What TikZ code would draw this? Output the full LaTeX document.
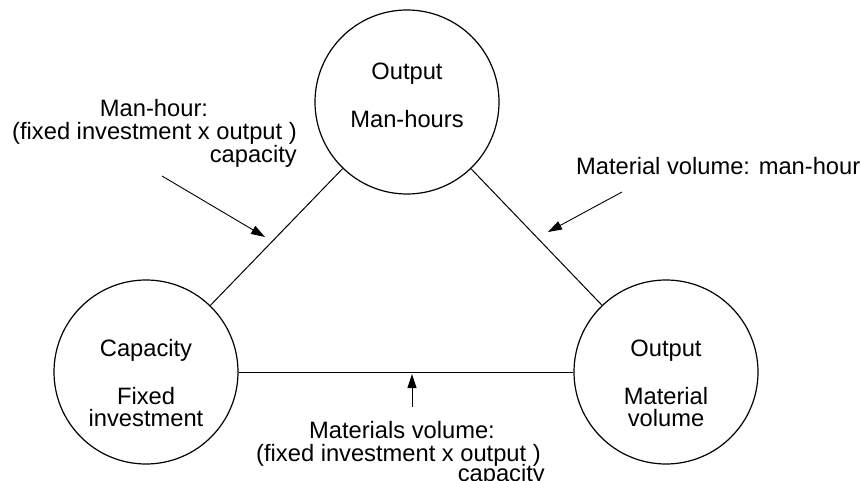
\documentclass[tikz,border=0pt]{standalone}
\usepackage{fontspec}
\setmainfont{Liberation Sans}
\usetikzlibrary{arrows.meta}
\begin{document}
\begin{tikzpicture}[x=1pt,y=-1pt,
  state/.style={circle,draw,line width=1.2pt,minimum size=184pt,inner sep=0pt},
  txt/.style={anchor=base,inner sep=0pt,font=\fontsize{23.7}{23}\selectfont},
  link/.style={line width=1pt},
  pointer/.style={line width=0.9pt,-{Triangle[length=14pt,width=9pt]}}]
\useasboundingbox (0,0) rectangle (861,481);
% circles
\node[state] (T) at (407,102) {};
\node[state] (L) at (146,372) {};
\node[state] (R) at (666,372) {};
% circle texts
\node[txt] (t1) at (407,80) {Output};
\node[txt] (t2) at (407,128) {Man-hours};
\node[txt] (l1) at (146,356) {Capacity};
\node[txt] (l2) at (146,404) {Fixed};
\node[txt] (l3) at (146,426) {investment};
\node[txt] (r1) at (666,356) {Output};
\node[txt] (r2) at (666,404) {Material};
\node[txt] (r3) at (666,426) {volume};
% connectors between circles
\draw[link] (L) -- (T);
\draw[link] (T) -- (R);
\draw[link] (L) -- (R);
% labels
\node[txt] (a1) at (154,117) {Man-hour:};
\node[txt] (a2) at (154.5,140) {(fixed investment x output )};
\node[txt,anchor=base east] (a3) at (297,163) {capacity};
\node[txt,anchor=base west] (b1) at (576,175) {Material volume: man-hour};
\node[txt] (c1) at (402,438) {Materials volume:};
\node[txt] (c2) at (398.5,461) {(fixed investment x output )};
\node[txt,anchor=base east] (c3) at (545,481) {capacity};
% pointer arrows
\coordinate (p1s) at (162,176);
\coordinate (p1e) at (265,237);
\coordinate (p2s) at (622,192);
\coordinate (p2e) at (548,232);
\coordinate (p3s) at (412,407);
\coordinate (p3e) at (412,374);
\draw[pointer] (p1s) -- (p1e);
\draw[pointer] (p2s) -- (p2e);
\draw[pointer] (p3s) -- (p3e);
\end{tikzpicture}
\end{document}
